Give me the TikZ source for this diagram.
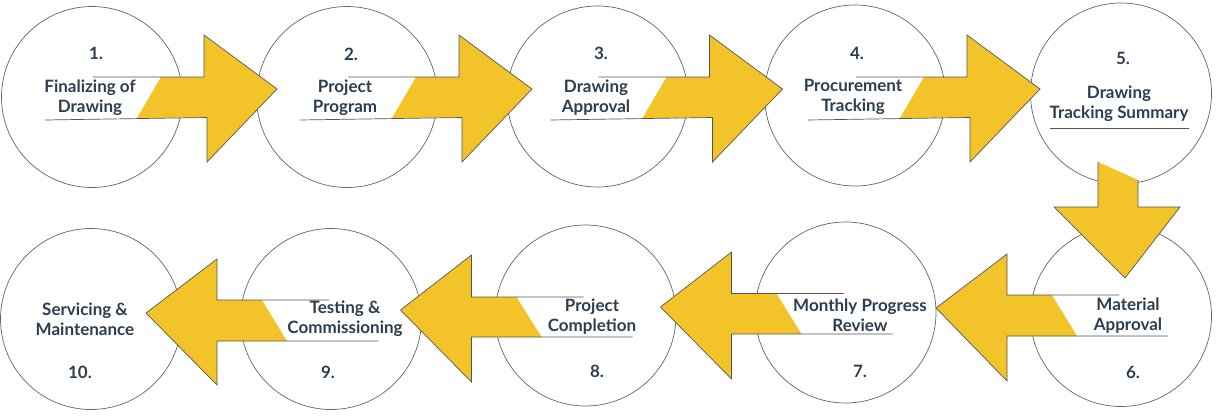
\documentclass[tikz,border=0pt]{standalone}
\usepackage{fontspec}
\setmainfont{Lato}
\definecolor{ayellow}{RGB}{242,196,42}
\definecolor{txt}{RGB}{44,62,80}
\definecolor{cline}{RGB}{100,100,100}
\definecolor{aline}{RGB}{85,85,85}
\tikzset{
 stage/.style={circle, draw=cline, line width=0.7pt, fill=white, minimum size=181pt, inner sep=0pt},
 lbl/.style={text=txt, font=\fontsize{17}{20}\selectfont\bfseries, align=center, inner sep=0pt},
 num/.style={text=txt, font=\fontsize{17}{20}\selectfont\bfseries, inner sep=0pt},
 arrowedge/.style={draw=aline, line width=0.7pt, line join=miter},
}
\begin{document}
\begin{tikzpicture}[x=1pt,y=-1pt]
\useasboundingbox (0,0) rectangle (1223,418);
% circles
\node[stage] (c1) at (92,97) {};
\node[stage] (c2) at (347,97) {};
\node[stage] (c3) at (597.5,96.5) {};
\node[stage] (c4) at (855,95.5) {};
\node[stage] (c5) at (1121,93.5) {};
\node[stage] (c6) at (1121,316) {};
\node[stage] (c7) at (845.5,312.5) {};
\node[stage] (c8) at (585.5,315.5) {};
\node[stage] (c9) at (331,319) {};
\node[stage] (c10) at (91,319) {};
% right-pointing arrows (top row)
\foreach \cx in {92,347,597.5,855} {
 \fill[ayellow] (\cx+69,77) -- (\cx+112,77) -- (\cx+112,35) -- (\cx+185,89) -- (\cx+115,162) -- (\cx+115,117.5) -- (\cx+45,118) -- cycle;
 \draw[arrowedge] (\cx+1,77) -- (\cx+112,77) -- (\cx+112,35) -- (\cx+185,89) -- (\cx+115,162) -- (\cx+115,117.5) -- (\cx-47,120);
}
% down arrow
\fill[ayellow] (1098,162) -- (1138,180) -- (1138,207) -- (1180,207) -- (1125,278) -- (1054,207) -- (1098,207) -- cycle;
\draw[arrowedge] (1138,180) -- (1138,207) -- (1180,207) -- (1125,278) -- (1054,207) -- (1098,207) -- (1098,162);
% left-pointing arrows (bottom row)
\foreach \cx/\yt/\yb/\hu/\hd/\ty in {1121/295/336/254/381/308, 845.5/293.5/334/252/379/307, 585.5/297/337/255/382/310, 331/300/341/259/385/313} {
 \fill[ayellow] (\cx-69,\yt) -- (\cx-114,\yt) -- (\cx-114,\hu) -- (\cx-185,\ty) -- (\cx-114,\hd) -- (\cx-114,\yb) -- (\cx-44,\yb) -- cycle;
 \draw[arrowedge] (\cx-2,\yt) -- (\cx-114,\yt) -- (\cx-114,\hu) -- (\cx-185,\ty) -- (\cx-114,\hd) -- (\cx-114,\yb) -- (\cx+47,\yb);
}
% underline in circle 5
\draw[arrowedge] (1050,128) -- (1189,128);
% labels
\node[num] (n1) at (96,53) {1.};
\node[lbl] (t1) at (90,97.5) {Finalizing of\\Drawing};
\node[num] (n2) at (351,54) {2.};
\node[lbl] (t2) at (345,97.5) {Project\\Program};
\node[num] (n3) at (601,53) {3.};
\node[lbl] (t3) at (596,97.5) {Drawing\\Approval};
\node[num] (n4) at (857,53) {4.};
\node[lbl] (t4) at (853,97) {Procurement\\Tracking};
\node[num] (n5) at (1123,58) {5.};
\node[lbl] (t5) at (1119,103.5) {Drawing\\Tracking Summary};
\node[lbl] (t6) at (1128,315.5) {Material\\Approval};
\node[num] (n6) at (1133,372) {6.};
\node[lbl] (t7) at (860,315.5) {Monthly Progress\\Review};
\node[num] (n7) at (860,371) {7.};
\node[lbl] (t8) at (592,316.5) {Project\\Completion};
\node[num] (n8) at (597,371) {8.};
\node[lbl] (t9) at (345,319) {Testing \&\\Commissioning};
\node[num] (n9) at (328,372) {9.};
\node[lbl] (t10) at (85,319) {Servicing \&\\Maintenance};
\node[num] (n10) at (80,372) {10.};
\end{tikzpicture}
\end{document}
